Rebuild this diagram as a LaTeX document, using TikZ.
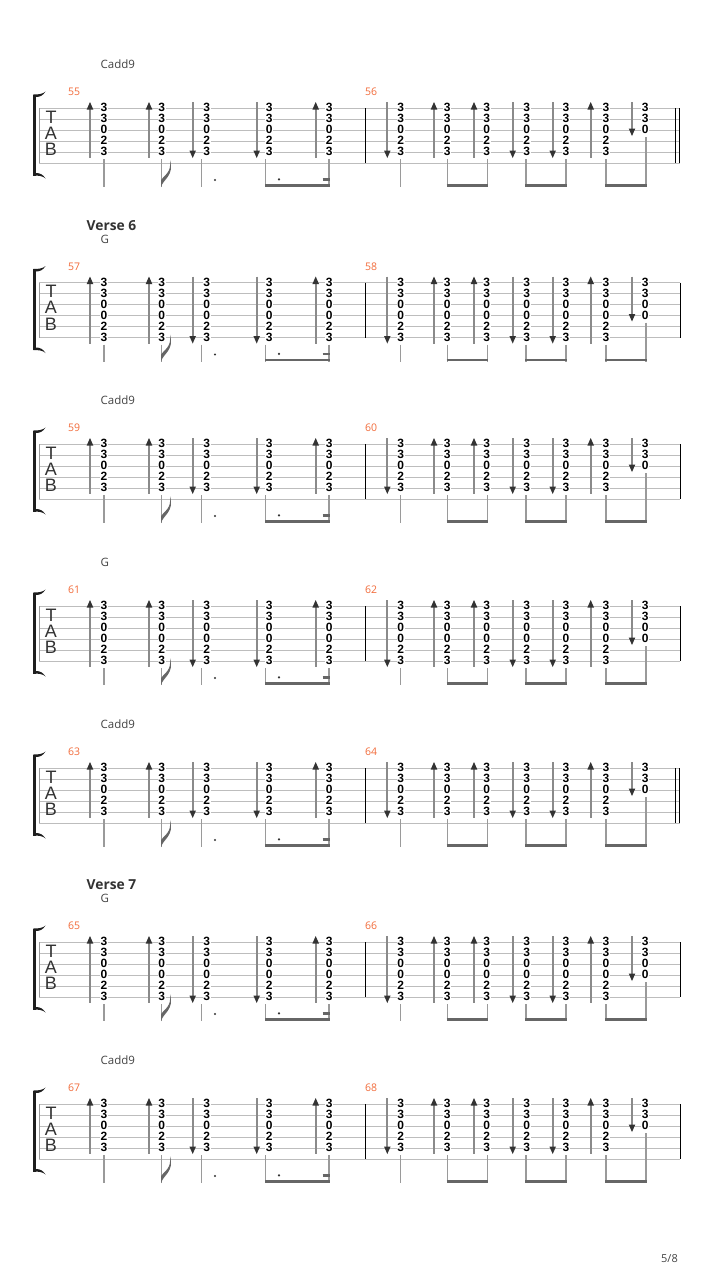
\documentclass[tikz,border=0pt]{standalone}
\usepackage{fontspec}
\setmainfont{Open Sans}
\newfontfamily\tabfont{Liberation Sans}
\definecolor{staffgray}{HTML}{BDBDBD}
\definecolor{arrowgray}{HTML}{8A8A8A}
\definecolor{headgray}{HTML}{333333}
\definecolor{stemgray}{HTML}{9A9A9A}
\definecolor{beamgray}{HTML}{666666}
\definecolor{measorange}{HTML}{F26B3A}
\definecolor{textgray}{HTML}{444444}
\definecolor{bracketc}{HTML}{1E1E1E}
\definecolor{startgray}{HTML}{999999}
\tikzset{
  staffline/.style={draw=staffgray, line width=0.9pt},
  startline/.style={draw=startgray, line width=1pt},
  shaft/.style={draw=arrowgray, line width=1.7pt},
  arrhead/.style={fill=headgray},
  stemline/.style={draw=stemgray, line width=1.2pt},
  beamline/.style={draw=beamgray, line width=2.8pt},
  barline/.style={draw=black, line width=1pt},
  fret/.style={font=\tabfont\bfseries\fontsize{12}{12}\selectfont, inner sep=0.5pt, fill=white, text=black},
  tabletter/.style={font=\tabfont\fontsize{18}{18}\selectfont, text=headgray, inner sep=0pt},
  chordlbl/.style={font=\fontsize{11.5}{12}\selectfont, text=textgray, inner sep=0pt, anchor=base west},
  mnum/.style={font=\fontsize{10.5}{11}\selectfont, text=measorange, inner sep=0pt, anchor=base west},
  header/.style={font=\bfseries\fontsize{13.8}{14}\selectfont, text=headgray, inner sep=0pt, anchor=base west},
}
\newcommand\StrumUp[3]{%
  \draw[shaft] (#1,#2+6) -- (#1,#3);
  \fill[arrhead] (#1,#2) -- (#1-3.3,#2+7.5) -- (#1+3.3,#2+7.5) -- cycle;}
\newcommand\StrumDown[3]{%
  \draw[shaft] (#1,#2) -- (#1,#3-6);
  \fill[arrhead] (#1,#3) -- (#1-3.3,#3-7.5) -- (#1+3.3,#3-7.5) -- cycle;}
% #1 top line y, #2 strings used (5/6), #3 chord, #4 first measure, #5 second measure, #6 double bar, #7 header
\newcommand\TabSys[7]{%
  \pgfmathsetmacro\sysT{#1}%
  \pgfmathsetmacro\sysLow{#1+11*(#2-1)}%
  \pgfmathsetmacro\sysShort{#1+11*(#2-3)}%
  \pgfmathsetmacro\sysTop{#1-6}%
  \pgfmathsetmacro\sysBot{\sysLow+6}%
  \pgfmathsetmacro\sysSBot{\sysShort+6}%
  \pgfmathsetmacro\sysStemTop{\sysLow+7}%
  \pgfmathsetmacro\sysSStemTop{\sysShort+7}%
  \pgfmathsetmacro\sysStemBot{#1+79}%
  \pgfmathsetmacro\sysBeam{#1+77.5}%
  \ifnum#2=5 \def\chordlist{3,3,0,2,3}\def\shortlist{3,3,0}\else\def\chordlist{3,3,0,0,2,3}\def\shortlist{3,3,0,0}\fi
  % staff lines
  \foreach \k in {0,...,5} {\draw[staffline] (39,\sysT+11*\k) -- (680,\sysT+11*\k);}
  \draw[startline] (39,\sysT) -- (39,\sysT+55);
  % bracket
  \fill[bracketc] (33.3,\sysT-13.5) rectangle (36.1,\sysT+67.5);
  \fill[bracketc] (33.3,\sysT-11) -- (33.3,\sysT-13.5) .. controls (39,\sysT-13.5) and (43,\sysT-14) .. (45.5,\sysT-16.5) .. controls (43,\sysT-12.5) and (40,\sysT-11) .. (36,\sysT-11) -- cycle;
  \fill[bracketc] (33.3,\sysT+65) -- (33.3,\sysT+67.5) .. controls (39,\sysT+67.5) and (43,\sysT+68) .. (45.5,\sysT+70.5) .. controls (43,\sysT+66.5) and (40,\sysT+65) .. (36,\sysT+65) -- cycle;
  % TAB clef
  \node[tabletter] (tabT#4) at (51,\sysT+9) {T};
  \node[tabletter] (tabA#4) at (51,\sysT+25) {A};
  \node[tabletter] (tabB#4) at (51,\sysT+41.5) {B};
  % labels
  \node[chordlbl] (chord#4) at (100.5,\sysT-39.5) {#3};
  \if\relax\detokenize{#7}\relax\else\node[header] (head#4) at (86.5,\sysT-52.5) {#7};\fi
  \node[mnum] (mA#4) at (68,\sysT-12.3) {#4};
  \node[mnum] (mB#4) at (365,\sysT-12.3) {#5};
  % bar lines
  \draw[barline] (365.5,\sysT) -- (365.5,\sysT+55);
  \ifnum#6=1
    \draw[barline] (675.7,\sysT) -- (675.7,\sysT+55);
    \draw[barline] (679.5,\sysT) -- (679.5,\sysT+55);
  \else
    \draw[barline] (680,\sysT) -- (680,\sysT+55);
  \fi
  % strums and chords
  \foreach \ax/\cx/\dir in {90/104/StrumUp,149/161.7/StrumUp,192.7/206.7/StrumDown,256.7/269.3/StrumDown,315.7/329.3/StrumUp,387.3/400.7/StrumDown,434/447.3/StrumUp,474/486.7/StrumUp,512.7/526.7/StrumDown,552.7/566/StrumDown,590.7/606/StrumUp}{%
    \csname\dir\endcsname{\ax}{\sysTop}{\sysBot}
    \foreach \d [count=\i from 0] in \chordlist {\node[fret] at (\cx,\sysT+11*\i-0.5) {\d};}
  }
  \StrumDown{632}{\sysTop}{\sysSBot}
  \foreach \d [count=\i from 0] in \shortlist {\node[fret] at (645.3,\sysT+11*\i-0.5) {\d};}
  % stems
  \foreach \sx in {104,161.7,201.7,265.7,329,400.7,447.3,487.3,526,566,606} {\draw[stemline] (\sx,\sysStemTop) -- (\sx,\sysStemBot);}
  \draw[stemline] (646,\sysSStemTop) -- (646,\sysStemBot);
  % beams
  \foreach \bx/\by in {265.7/329,447.3/487.3,526/566,606/646} {\draw[beamline] (\bx-0.6,\sysBeam) -- (\by+0.6,\sysBeam);}
  \draw[beamline] (322.5,\sysT+71.5) -- (329.6,\sysT+71.5);
  % flag
  \fill[beamgray] (161.1,\sysT+79) .. controls (163,\sysT+71) and (174.5,\sysT+68) .. (170,\sysT+52) .. controls (172,\sysT+65) and (163,\sysT+68) .. (161.1,\sysT+72) -- cycle;
  % rhythm dots
  \fill[headgray] (215,\sysT+72) circle[radius=1.2pt];
  \fill[headgray] (279,\sysT+71.3) circle[radius=1.2pt];
}
\begin{document}
\begin{tikzpicture}[x=1pt,y=-1pt]
\fill[white] (0,0) rectangle (720,1280);
\useasboundingbox (0,0) rectangle (720,1280);
\TabSys{108}{5}{Cadd9}{55}{56}{1}{}
\TabSys{282.5}{6}{G}{57}{58}{0}{Verse 6}
\TabSys{444}{5}{Cadd9}{59}{60}{0}{}
\TabSys{606}{6}{G}{61}{62}{0}{}
\TabSys{768}{5}{Cadd9}{63}{64}{1}{}
\TabSys{942}{6}{G}{65}{66}{0}{Verse 7}
\TabSys{1104}{5}{Cadd9}{67}{68}{0}{}
\node[font=\fontsize{11}{12}\selectfont, text=textgray, anchor=base east, inner sep=0pt] (page) at (678,1262) {5/8};
\end{tikzpicture}
\end{document}
